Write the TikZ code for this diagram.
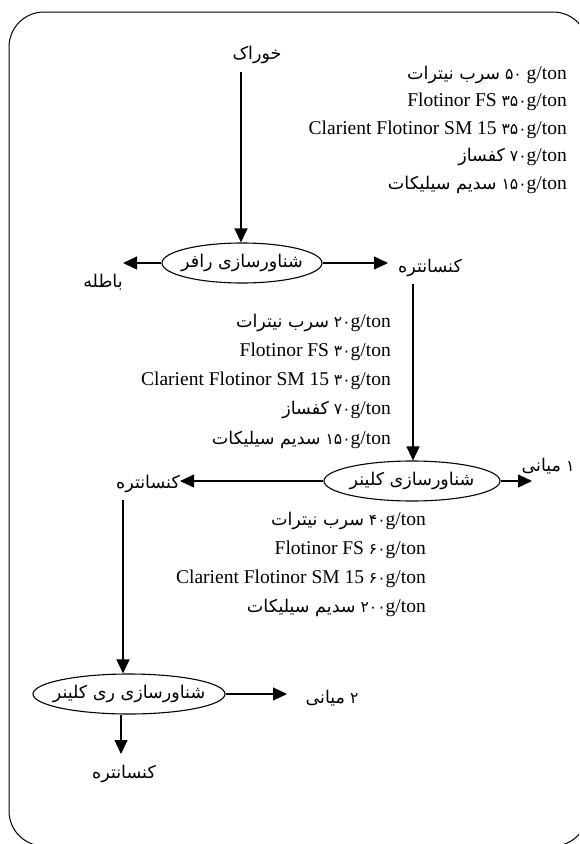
\documentclass[tikz,border=0pt]{standalone}
\usepackage{fontspec}
\setmainfont{Liberation Serif}
\newfontfamily\fa[Script=Arabic,Scale=0.9]{DejaVu Sans}
\newfontfamily\fdig[Script=Arabic,Scale=0.8]{DejaVu Sans}
\TeXXeTstate=1
\usetikzlibrary{arrows.meta,shapes.geometric}
\newcommand\RL[1]{\mbox{\fa\beginR #1\endR}}
\newcommand\fd[1]{\mbox{\fdig #1}}
\begin{document}
\begin{tikzpicture}[x=1pt,y=-1pt,
  lab/.style={inner sep=0pt, font=\fontsize{19.5}{23}\selectfont},
  chem/.style={anchor=east, inner sep=0pt, font=\fontsize{19.5}{23}\selectfont},
  proc/.style={ellipse, draw, line width=1.1pt, minimum height=40pt, inner sep=-14pt, font=\fontsize{19.5}{23}\selectfont},
  flow/.style={line width=1.1pt, -{Triangle[length=14pt,width=13pt]}},
  frame/.style={line width=1pt, rounded corners=35pt}]
\useasboundingbox (0,0) rectangle (579,844);
\begin{scope}
\clip (0,0) rectangle (579,844);
\draw[frame] (9,12) rectangle (588,846);
\end{scope}

% rougher
\node[lab] (feed) at (257,55) {\RL{خوراک}};
\coordinate (feedtop) at (241,72);
\node[proc, minimum width=160pt] (r1) at (242,263) {\RL{شناورسازی رافر}};
\draw[flow] (feedtop) -- (feedtop |- r1.north);
\node[lab] (tail) at (103,282) {\RL{باطله}};
\coordinate (tailtip) at (123,263);
\draw[flow] (r1.west) -- (tailtip);
\node[lab] (c1) at (430,268) {\RL{کنسانتره}};
\coordinate (c1tip) at (388,263);
\draw[flow] (r1.east) -- (c1tip);

% group 1
\node[chem] (g11) at (567,75) {\RL{سرب نیترات} \fd{۵۰} g/ton};
\node[chem] (g12) at (567,102) {Flotinor FS \fd{۳۵۰}g/ton};
\node[chem] (g13) at (567,130) {Clarient Flotinor SM 15 \fd{۳۵۰}g/ton};
\node[chem] (g14) at (567,157) {\RL{کفساز} \fd{۷۰}g/ton};
\node[chem] (g15) at (567,185) {\RL{سدیم سیلیکات} \fd{۱۵۰}g/ton};

% cleaner
\node[proc, minimum width=176pt] (cl) at (412,481) {\RL{شناورسازی کلینر}};
\coordinate (c1down) at (413,284);
\draw[flow] (c1down) -- (c1down |- cl.north);
\node[lab] (c2) at (148,484) {\RL{کنسانتره}};
\draw[flow] (cl.west) -- (c2.east |- cl.west);
\node[lab] (m1) at (548,466) {\RL{میانی}\hspace{5pt}\fd{۱}};
\coordinate (m1tip) at (532,481);
\draw[flow] (cl.east) -- (m1tip);

% group 2
\node[chem] (g21) at (391,323) {\RL{سرب نیترات} \fd{۲۰}g/ton};
\node[chem] (g22) at (391,352) {Flotinor FS \fd{۳۰}g/ton};
\node[chem] (g23) at (391,381) {Clarient Flotinor SM 15 \fd{۳۰}g/ton};
\node[chem] (g24) at (391,410) {\RL{کفساز} \fd{۷۰}g/ton};
\node[chem] (g25) at (391,440) {\RL{سدیم سیلیکات} \fd{۱۵۰}g/ton};

% group 3
\node[chem] (g31) at (426,521) {\RL{سرب نیترات} \fd{۴۰}g/ton};
\node[chem] (g32) at (426,550) {Flotinor FS \fd{۶۰}g/ton};
\node[chem] (g33) at (426,579) {Clarient Flotinor SM 15 \fd{۶۰}g/ton};
\node[chem] (g34) at (426,608) {\RL{سدیم سیلیکات} \fd{۲۰۰}g/ton};

% recleaner
\node[proc, minimum width=192pt] (rc) at (129,694) {\RL{شناورسازی ری کلینر}};
\coordinate (c2down) at (123,500);
\draw[flow] (c2down) -- (c2down |- rc.north);
\node[lab] (m2) at (332,698) {\RL{میانی}\hspace{5pt}\fd{۲}};
\coordinate (m2tip) at (287,694);
\draw[flow] (rc.east) -- (m2tip);
\node[lab] (c3) at (124,774) {\RL{کنسانتره}};
\coordinate (c3tip) at (121,754);
\draw[flow] (c3tip |- rc.south) -- (c3tip);
\end{tikzpicture}
\end{document}
